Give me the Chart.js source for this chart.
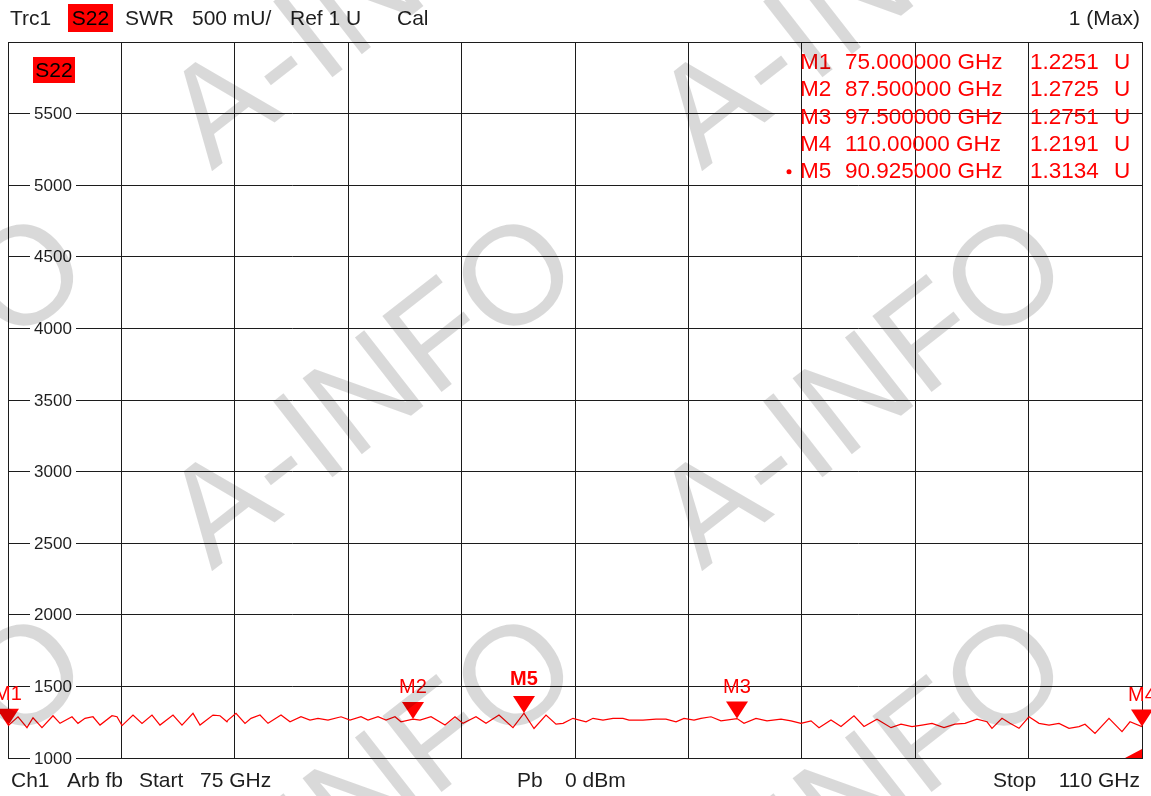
<!DOCTYPE html>
<html>
<head>
<meta charset="utf-8">
<title>S22 SWR</title>
<script src="https://cdn.jsdelivr.net/npm/chart.js@4"></script>
<style>
  html, body { margin: 0; padding: 0; background: #fff; }
  #wrap { width: 1151px; height: 796px; position: relative; }
</style>
</head>
<body>
<div id="wrap"><canvas id="swr-chart"></canvas></div>
<script>
// ==================== DATA ====================
// trace S22, SWR in mU (75 .. 110 GHz)
const freqGHz = [
  75.000, 75.309, 75.586, 75.772, 76.049, 76.389, 76.605, 76.975, 77.160, 77.377,
  77.623, 77.840, 78.210, 78.364, 78.519, 78.858, 79.136, 79.444, 79.691, 80.093,
  80.370, 80.710, 80.926, 81.327, 81.543, 81.759, 81.790, 82.037, 82.315, 82.500,
  82.778, 83.025, 83.426, 83.704, 84.043, 84.321, 84.568, 84.877, 85.278, 85.556,
  85.895, 86.111, 86.420, 86.667, 86.944, 87.130, 87.500, 87.716, 88.056, 88.488,
  88.796, 89.043, 89.444, 89.753, 90.154, 90.586, 90.925, 91.235, 91.605, 91.914,
  92.130, 92.438, 92.840, 93.056, 93.364, 93.673, 93.981, 94.167, 94.599, 95.000,
  95.309, 95.617, 95.864, 96.173, 96.389, 96.698, 97.006, 97.500, 97.716, 98.086,
  98.426, 98.858, 99.167, 99.475, 99.784, 100.031, 100.401, 100.710, 101.111, 101.420,
  101.821, 102.253, 102.562, 102.901, 103.210, 103.519, 103.889, 104.228, 104.537, 104.907,
  105.216, 105.370, 105.679, 105.926, 106.204, 106.512, 106.821, 107.130, 107.438, 107.747,
  108.056, 108.241, 108.549, 108.981, 109.383, 109.630, 110.000
];
const swrMU = [
  1225, 1288, 1212, 1281, 1212, 1295, 1242, 1288, 1242, 1277,
  1288, 1230, 1295, 1288, 1226, 1300, 1242, 1300, 1230, 1300,
  1230, 1312, 1230, 1300, 1295, 1253, 1265, 1312, 1242, 1277,
  1300, 1242, 1300, 1253, 1288, 1265, 1277, 1265, 1288, 1265,
  1288, 1265, 1288, 1265, 1288, 1253, 1272, 1265, 1288, 1230,
  1288, 1242, 1288, 1242, 1300, 1212, 1313, 1206, 1300, 1236,
  1242, 1277, 1253, 1277, 1265, 1277, 1277, 1265, 1265, 1271,
  1271, 1253, 1277, 1265, 1277, 1288, 1259, 1275, 1242, 1277,
  1259, 1271, 1259, 1242, 1259, 1212, 1265, 1220, 1295, 1220,
  1271, 1212, 1236, 1219, 1230, 1242, 1212, 1236, 1242, 1271,
  1253, 1207, 1277, 1242, 1207, 1288, 1242, 1230, 1242, 1207,
  1219, 1236, 1172, 1277, 1184, 1253, 1219
];

const markerNames = ['M1', 'M2', 'M3', 'M4', 'M5'];
const markerFreq = [75, 87.5, 97.5, 110, 90.925];
const markerValue = [1225.1, 1272.5, 1275.1, 1219.1, 1313.4];
const markerFreqText = ['75.000000 GHz', '87.500000 GHz', '97.500000 GHz', '110.00000 GHz', '90.925000 GHz'];
const markerValueText = ['1.2251', '1.2725', '1.2751', '1.2191', '1.3134'];
const activeMarker = 'M5';

const yMin = 1000, yMax = 6000, yStep = 500;
const xStart = 75, xStop = 110;

const RED = '#ff0000';
const INK = '#1e1e1e';
const GRID = '#1c1c1c';
const FONT = '"Liberation Sans", Arial, sans-serif';

// ==================== PLUGINS ====================
const whiteBg = {
  id: 'whiteBg',
  beforeDraw(chart) {
    const ctx = chart.ctx;
    ctx.save();
    ctx.fillStyle = '#fff';
    ctx.fillRect(0, 0, chart.width, chart.height);
    ctx.restore();
  }
};

// tick labels sit on the grid lines, inside the diagram
const yLabels = {
  id: 'yLabels',
  afterDatasetsDraw(chart) {
    const ctx = chart.ctx;
    const y = chart.scales.y;
    ctx.save();
    ctx.font = '17px ' + FONT;
    ctx.textBaseline = 'middle';
    ctx.textAlign = 'center';
    y.ticks.forEach(t => {
      if (t.value >= yMax) return;
      const py = y.getPixelForValue(t.value);
      ctx.fillStyle = '#fff';
      ctx.fillRect(30, py - 2, 46, 4);
      ctx.fillStyle = INK;
      ctx.fillText(String(t.value), 53, py + 1);
    });
    ctx.restore();
  }
};

const markers = {
  id: 'markers',
  afterDatasetsDraw(chart) {
    const ctx = chart.ctx;
    const xs = chart.scales.x, ys = chart.scales.y;
    ctx.save();
    markerNames.forEach((name, i) => {
      const px = xs.getPixelForValue(markerFreq[i]);
      const py = ys.getPixelForValue(markerValue[i]);
      ctx.fillStyle = RED;
      ctx.beginPath();
      ctx.moveTo(px - 11, py - 17);
      ctx.lineTo(px + 11, py - 17);
      ctx.lineTo(px, py);
      ctx.closePath();
      ctx.fill();
      const active = name === activeMarker;
      ctx.font = (active ? 'bold ' : '') + '20px ' + FONT;
      ctx.textAlign = 'center';
      ctx.textBaseline = 'middle';
      ctx.fillText(name, px, py - (active ? 34 : 31));
    });
    ctx.restore();
  }
};

function tag(ctx, text, x, y, w, h) {
  ctx.fillStyle = RED;
  ctx.fillRect(x, y, w, h);
  ctx.fillStyle = '#000';
  ctx.textAlign = 'center';
  ctx.fillText(text, x + w / 2, y + h / 2 + 1);
}

const screenText = {
  id: 'screenText',
  afterDraw(chart) {
    const ctx = chart.ctx;
    const area = chart.chartArea;
    ctx.save();
    ctx.textBaseline = 'middle';

    // header
    ctx.font = '21px ' + FONT;
    ctx.fillStyle = INK;
    ctx.textAlign = 'left';
    ctx.fillText('Trc1', 10, 19);
    ctx.fillText('SWR', 125, 19);
    ctx.fillText('500 mU/', 192, 19);
    ctx.fillText('Ref 1 U', 290, 19);
    ctx.fillText('Cal', 397, 19);
    ctx.textAlign = 'right';
    ctx.fillText('1 (Max)', 1140, 19);
    tag(ctx, 'S22', 68, 4, 45, 28);
    tag(ctx, 'S22', 33, 57, 42, 26);

    // footer
    ctx.fillStyle = INK;
    ctx.textAlign = 'left';
    ctx.fillText('Ch1', 11, 781);
    ctx.fillText('Arb fb', 67, 781);
    ctx.fillText('Start', 139, 781);
    ctx.fillText('75 GHz', 200, 781);
    ctx.fillText('Pb', 517, 781);
    ctx.fillText('0 dBm', 565, 781);
    ctx.fillText('Stop', 993, 781);
    ctx.textAlign = 'right';
    ctx.fillText('110 GHz', 1140, 781);

    // marker table
    ctx.font = '22.5px ' + FONT;
    ctx.fillStyle = RED;
    ctx.textAlign = 'left';
    markerNames.forEach((name, i) => {
      const ry = 63 + i * 27.2;
      ctx.fillText(name, 800, ry);
      ctx.fillText(markerFreqText[i], 845, ry);
      ctx.fillText(markerValueText[i], 1030, ry);
      ctx.fillText('U', 1114, ry);
      if (name === activeMarker) {
        ctx.beginPath();
        ctx.arc(789, ry, 2.5, 0, Math.PI * 2);
        ctx.fill();
      }
    });

    // little limit flag in the lower right corner
    ctx.beginPath();
    ctx.moveTo(area.right - 17, area.bottom);
    ctx.lineTo(area.right, area.bottom);
    ctx.lineTo(area.right, area.bottom - 9);
    ctx.closePath();
    ctx.fill();

    // watermark
    ctx.font = '140px ' + FONT;
    ctx.textAlign = 'center';
    ctx.fillStyle = 'rgba(0,0,0,0.15)';
    [-120, 370, 860].forEach(cx => {
      [-5, 395, 795].forEach(cy => {
        ctx.save();
        ctx.translate(cx + 5, cy);
        ctx.rotate(-38 * Math.PI / 180);
        ctx.fillText('A-INFO', 0, 0);
        ctx.restore();
      });
    });
    ctx.restore();
  }
};

// ==================== CHART ====================
const ctx = document.getElementById('swr-chart').getContext('2d');
const chart = new Chart(ctx, {
  type: 'line',
  data: {
    datasets: [{
      label: 'S22',
      data: freqGHz.map((f, i) => ({ x: f, y: swrMU[i] })),
      borderColor: RED,
      borderWidth: 1.2,
      pointRadius: 0,
      tension: 0,
      fill: false
    }]
  },
  options: {
    responsive: true,
    maintainAspectRatio: false,
    animation: false,
    layout: { padding: { left: 8, right: 9, top: 42, bottom: 38 } },
    plugins: {
      legend: { display: false },
      tooltip: { enabled: false }
    },
    scales: {
      x: {
        type: 'linear',
        min: xStart,
        max: xStop,
        ticks: { display: false, stepSize: (xStop - xStart) / 10 },
        grid: { color: GRID, lineWidth: 1, drawTicks: false },
        border: { color: GRID, width: 1 }
      },
      y: {
        type: 'linear',
        min: yMin,
        max: yMax,
        ticks: { display: false, stepSize: yStep },
        grid: { color: GRID, lineWidth: 1, drawTicks: false },
        border: { color: GRID, width: 1 }
      }
    }
  },
  plugins: [whiteBg, yLabels, markers, screenText]
});
</script>
</body>
</html>
